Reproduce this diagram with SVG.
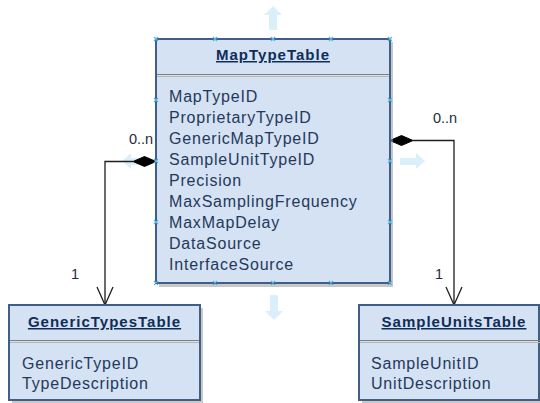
<svg xmlns="http://www.w3.org/2000/svg" width="540" height="403" viewBox="0 0 540 403">
  <defs>
    <style>
      .box { fill: #d5e2f4; stroke: #3f5f86; stroke-width: 2; }
      .shadow { fill: #9a9a9a; opacity: 0.55; }
      .sep1 { stroke: #7d7d7d; stroke-width: 1.2; }
      .sep2 { stroke: #b5b5b5; stroke-width: 1.2; }
      .title { font-family: "Liberation Sans", Arial, sans-serif; font-size: 15px; font-weight: bold; fill: #0f2d58; text-decoration: underline; letter-spacing: 1px; text-anchor: middle; }
      .attr { font-family: "Liberation Sans", Arial, sans-serif; font-size: 16px; fill: #24395a; letter-spacing: 0.8px; }
      .mult { font-family: "Liberation Sans", Arial, sans-serif; font-size: 14.5px; fill: #1f2b40; }
      .line { fill: none; stroke: #1e1e1e; stroke-width: 1.3; }
      .open { fill: none; stroke: #1e1e1e; stroke-width: 1.3; }
      .diamond { fill: #000; stroke: #000; stroke-width: 1; }
      .hint { fill: #dbeffb; }
      .handle { stroke: #55b6e6; stroke-width: 1.1; fill: none; }
    </style>
  </defs>

  <!-- faint move hints around the selected table -->
  <g id="hints">
    <path class="hint" d="M273,6 L282,15 L277,15 L277,30 L269,30 L269,15 L264,15 Z"/>
    <path class="hint" d="M274,320 L265,311 L270,311 L270,295 L278,295 L278,311 L283,311 Z"/>
    <path class="hint" d="M425,161 L416,153 L416,158 L400,158 L400,165 L416,165 L416,169 Z"/>
    <path class="hint" d="M122,161 L131,153 L131,158 L146,158 L146,165 L131,165 L131,169 Z"/>
  </g>

  <!-- connectors -->
  <g id="connectors">
    <path class="line" d="M133,161.5 H105 V305"/>
    <path class="open" d="M97,287 L105,305 L113,287"/>
    <path class="diamond" d="M133,161.5 L144.5,156.5 L156,161.5 L144.5,166.5 Z"/>
    <path class="line" d="M413,140.5 H454 V305"/>
    <path class="open" d="M446,287 L454,305 L462,287"/>
    <path class="diamond" d="M390,140.5 L401.5,135.5 L413,140.5 L401.5,145.5 Z"/>
    <text class="mult" x="129" y="144">0..n</text>
    <text class="mult" x="433" y="123">0..n</text>
    <text class="mult" x="71" y="279">1</text>
    <text class="mult" x="435" y="279">1</text>
  </g>

  <!-- MapTypeTable -->
  <g id="MapTypeTable">
    <rect class="shadow" x="159" y="42" width="234" height="245"/>
    <rect class="box" x="156" y="39" width="234" height="244"/>
    <line class="sep1" x1="157" y1="74.5" x2="389" y2="74.5"/>
    <line class="sep2" x1="157" y1="76.5" x2="389" y2="76.5"/>
    <text class="title" x="273" y="60">MapTypeTable</text>
    <text class="attr" x="169" y="102">MapTypeID</text>
    <text class="attr" x="169" y="123">ProprietaryTypeID</text>
    <text class="attr" x="169" y="144">GenericMapTypeID</text>
    <text class="attr" x="169" y="165">SampleUnitTypeID</text>
    <text class="attr" x="169" y="186">Precision</text>
    <text class="attr" x="169" y="207">MaxSamplingFrequency</text>
    <text class="attr" x="169" y="228">MaxMapDelay</text>
    <text class="attr" x="169" y="249">DataSource</text>
    <text class="attr" x="169" y="270">InterfaceSource</text>
    <!-- selection handles -->
    <path class="handle" d="M154,37 l4,4 m0,-4 l-4,4 M213,37 l4,4 m0,-4 l-4,4 M271,37 l4,4 m0,-4 l-4,4 M329,37 l4,4 m0,-4 l-4,4 M388,37 l4,4 m0,-4 l-4,4
      M154,281 l4,4 m0,-4 l-4,4 M213,281 l4,4 m0,-4 l-4,4 M271,281 l4,4 m0,-4 l-4,4 M329,281 l4,4 m0,-4 l-4,4 M388,281 l4,4 m0,-4 l-4,4
      M154,98 l4,4 m0,-4 l-4,4 M154,159 l4,4 m0,-4 l-4,4 M154,220 l4,4 m0,-4 l-4,4
      M388,98 l4,4 m0,-4 l-4,4 M388,159 l4,4 m0,-4 l-4,4 M388,220 l4,4 m0,-4 l-4,4"/>
  </g>

  <!-- GenericTypesTable -->
  <g id="GenericTypesTable">
    <rect class="shadow" x="12" y="308" width="191" height="96"/>
    <rect class="box" x="9" y="305" width="191" height="95"/>
    <line class="sep1" x1="10" y1="340.5" x2="199" y2="340.5"/>
    <line class="sep2" x1="10" y1="342.5" x2="199" y2="342.5"/>
    <text class="title" x="104.5" y="327">GenericTypesTable</text>
    <text class="attr" x="22" y="369">GenericTypeID</text>
    <text class="attr" x="22" y="389">TypeDescription</text>
  </g>

  <!-- SampleUnitsTable -->
  <g id="SampleUnitsTable">
    <rect class="shadow" x="362" y="308" width="180" height="96"/>
    <rect class="box" x="359" y="305" width="180" height="95"/>
    <line class="sep1" x1="360" y1="340.5" x2="540" y2="340.5"/>
    <line class="sep2" x1="360" y1="342.5" x2="540" y2="342.5"/>
    <text class="title" x="454" y="327">SampleUnitsTable</text>
    <text class="attr" x="371" y="369">SampleUnitID</text>
    <text class="attr" x="371" y="389">UnitDescription</text>
  </g>
</svg>
